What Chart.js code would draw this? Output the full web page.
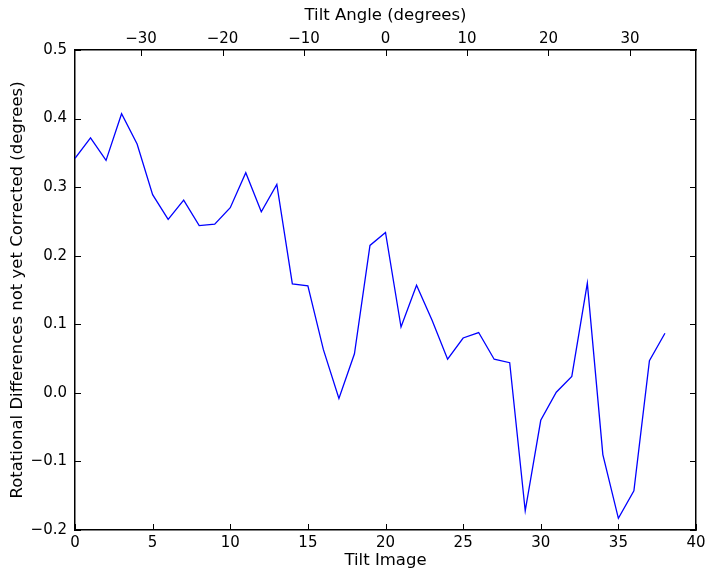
<!DOCTYPE html>
<html>
<head>
<meta charset="utf-8">
<script src="https://cdn.jsdelivr.net/npm/chart.js@4"></script>
<style>
  html, body { margin: 0; padding: 0; background: #fff; font-family: 'DejaVu Sans'; }
  #wrap { width: 714px; height: 579px; position: relative; }
</style>
</head>
<body>
<div id="wrap">
    <canvas id="tiltChart"></canvas>
</div>

<script>
    // data
    const tiltImage = [0, 1, 2, 3, 4, 5, 6, 7, 8, 9, 10, 11, 12, 13, 14, 15, 16, 17, 18, 19,
                       20, 21, 22, 23, 24, 25, 26, 27, 28, 29, 30, 31, 32, 33, 34, 35, 36, 37, 38];
    const rotDiff = [0.342, 0.372, 0.339, 0.407, 0.363, 0.289, 0.253, 0.281, 0.244, 0.246,
                     0.270, 0.321, 0.264, 0.304, 0.159, 0.156, 0.063, -0.008, 0.057, 0.215,
                     0.234, 0.096, 0.157, 0.106, 0.049, 0.080, 0.088, 0.049, 0.044, -0.172,
                     -0.040, 0.001, 0.024, 0.160, -0.090, -0.183, -0.143, 0.047, 0.087];
    const imageRange = [0, 40];
    const angleRange = [-38.1, 38.1];
    const valueRange = [-0.2, 0.5];

    const family = "'DejaVu Sans', 'Liberation Sans', sans-serif";
    const tickFont = { family: family, size: 15 };
    const titleFont = { family: family, size: 16.5 };
    const minus = s => String(s).replace('-', '\u2212');
    const fmt1 = v => Math.abs(v) < 1e-9 ? '0.0' : minus(v.toFixed(1));

    // matplotlib-style ticks pointing into the plot, on all four sides
    const inwardTicks = {
        id: 'inwardTicks',
        afterDraw(chart) {
            const ctx = chart.ctx, a = chart.chartArea, len = 6;
            ctx.save();
            ctx.strokeStyle = '#000';
            ctx.lineWidth = 1;
            ctx.beginPath();
            chart.scales.x.ticks.forEach(t => {
                const px = Math.round(chart.scales.x.getPixelForValue(t.value)) + 0.5;
                ctx.moveTo(px, a.bottom); ctx.lineTo(px, a.bottom - len);
            });
            chart.scales.x2.ticks.forEach(t => {
                const px = Math.round(chart.scales.x2.getPixelForValue(t.value)) + 0.5;
                ctx.moveTo(px, a.top); ctx.lineTo(px, a.top + len);
            });
            chart.scales.y.ticks.forEach(t => {
                const py = Math.round(chart.scales.y.getPixelForValue(t.value)) + 0.5;
                ctx.moveTo(a.left, py); ctx.lineTo(a.left + len, py);
                ctx.moveTo(a.right, py); ctx.lineTo(a.right - len, py);
            });
            ctx.stroke();
            ctx.restore();
        }
    };

    new Chart(document.getElementById('tiltChart').getContext('2d'), {
        type: 'line',
        data: {
            datasets: [{
                data: tiltImage.map((x, i) => ({ x: x, y: rotDiff[i] })),
                borderColor: '#0000ff',
                borderWidth: 1.3,
                pointRadius: 0,
                tension: 0,
                fill: false,
                xAxisID: 'x',
                yAxisID: 'y'
            }]
        },
        options: {
            responsive: true,
            maintainAspectRatio: false,
            animation: false,
            layout: { padding: 0 },
            plugins: { legend: { display: false }, tooltip: { enabled: false } },
            scales: {
                x: {
                    type: 'linear', position: 'bottom',
                    min: imageRange[0], max: imageRange[1],
                    grid: { display: false, drawTicks: false },
                    border: { display: true, color: '#000', width: 1.5 },
                    ticks: { stepSize: 5, autoSkip: false, includeBounds: false, maxRotation: 0,
                             padding: 4, color: '#000', font: tickFont },
                    title: { display: true, text: 'Tilt Image', color: '#000', font: titleFont,
                             padding: { top: 0, bottom: 8 } },
                    afterFit(s) { s.height = 49; }
                },
                x2: {
                    type: 'linear', position: 'top',
                    min: angleRange[0], max: angleRange[1],
                    grid: { display: false, drawTicks: false },
                    border: { display: true, color: '#000', width: 1.5 },
                    ticks: { stepSize: 10, autoSkip: false, includeBounds: false, maxRotation: 0,
                             padding: 2, color: '#000', font: tickFont, callback: v => minus(v) },
                    title: { display: true, text: 'Tilt Angle (degrees)', color: '#000', font: titleFont,
                             padding: { top: 6, bottom: 0 } },
                    afterFit(s) { s.height = 50; }
                },
                y: {
                    type: 'linear', position: 'left',
                    min: valueRange[0], max: valueRange[1],
                    grid: { display: false, drawTicks: false },
                    border: { display: true, color: '#000', width: 1.5 },
                    ticks: { stepSize: 0.1, autoSkip: false, includeBounds: false,
                             padding: 8, color: '#000', font: tickFont, callback: fmt1 },
                    title: { display: true, text: 'Rotational Differences not yet Corrected (degrees)',
                             color: '#000', font: titleFont, padding: { top: 8, bottom: 0 } },
                    afterFit(s) { s.width = 75; }
                },
                y2: {
                    type: 'linear', position: 'right',
                    min: valueRange[0], max: valueRange[1],
                    grid: { display: false, drawTicks: false },
                    border: { display: true, color: '#000', width: 1.5 },
                    ticks: { display: false },
                    afterFit(s) { s.width = 18; }
                }
            }
        },
        plugins: [inwardTicks]
    });
</script>
</body>
</html>
